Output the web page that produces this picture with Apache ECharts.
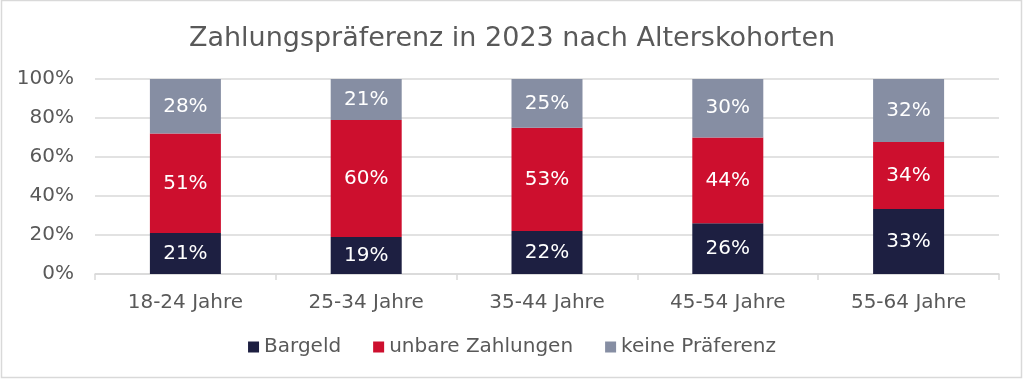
<!DOCTYPE html>
<html>
<head>
<meta charset="utf-8">
<script src="https://cdn.jsdelivr.net/npm/echarts@6/dist/echarts.min.js"></script>
<style>
html,body{margin:0;padding:0;background:#fff;}
#c{width:1024px;height:380px;}
</style>
</head>
<body>
<div id="c"></div>
<script>
const categories = ['18-24 Jahre', '25-34 Jahre', '35-44 Jahre', '45-54 Jahre', '55-64 Jahre'];
const bargeld = [21, 19, 22, 26, 33];
const unbar = [51, 60, 53, 44, 34];
const keine = [28, 21, 25, 30, 32];
const yTicks = [0, 20, 40, 60, 80, 100];

const totals = categories.map((_, i) => bargeld[i] + unbar[i] + keine[i]);
function share(arr) {
  return arr.map((v, i) => ({ value: v / totals[i] * 100, raw: v }));
}
const font = 'DejaVu Sans';
const chart = echarts.init(document.getElementById('c'), null, { renderer: 'canvas' });

function mk(name, arr, color) {
  return {
    name: name,
    type: 'bar',
    stack: 'total',
    barWidth: 71,
    data: share(arr),
    itemStyle: { color: color },
    label: {
      show: true,
      position: 'inside',
      color: '#ffffff',
      fontFamily: font,
      fontSize: 20,
      formatter: p => p.data.raw + '%'
    },
    emphasis: { disabled: true }
  };
}

chart.setOption({
  animation: false,
  textStyle: { fontFamily: font },
  graphic: [{
    type: 'rect',
    shape: { x: 1.5, y: 0.5, width: 1020, height: 377 },
    style: { fill: 'none', stroke: '#d9d9d9', lineWidth: 1.5 },
    silent: true
  }],
  title: {
    text: 'Zahlungspräferenz in 2023 nach Alterskohorten',
    left: 'center',
    top: 20,
    textStyle: { fontFamily: font, fontSize: 27, fontWeight: 'normal', color: '#595959' }
  },
  legend: {
    left: 'center',
    top: 332,
    itemWidth: 11,
    itemHeight: 11,
    itemGap: 32,
    icon: 'rect',
    textStyle: { fontFamily: font, fontSize: 20, color: '#595959' },
    data: ['Bargeld', 'unbare Zahlungen', 'keine Präferenz']
  },
  grid: { left: 95, right: 25, top: 79, bottom: 106, containLabel: false },
  xAxis: {
    type: 'category',
    data: categories,
    axisLine: { lineStyle: { color: '#d9d9d9', width: 1.5 } },
    axisTick: { show: true, alignWithLabel: false, length: 6, lineStyle: { color: '#d9d9d9', width: 1.5 } },
    axisLabel: { fontFamily: font, fontSize: 20, color: '#595959', margin: 19 }
  },
  yAxis: {
    type: 'value',
    min: yTicks[0],
    max: yTicks[yTicks.length - 1],
    interval: 20,
    axisLine: { show: false },
    axisTick: { show: false },
    splitLine: { lineStyle: { color: '#d9d9d9', width: 1.5 } },
    axisLabel: { fontFamily: font, fontSize: 20, color: '#595959', margin: 21, formatter: '{value}%' }
  },
  series: [
    mk('Bargeld', bargeld, '#1d1f41'),
    mk('unbare Zahlungen', unbar, '#cd0f2e'),
    mk('keine Präferenz', keine, '#868ea3')
  ]
});
</script>
</body>
</html>
